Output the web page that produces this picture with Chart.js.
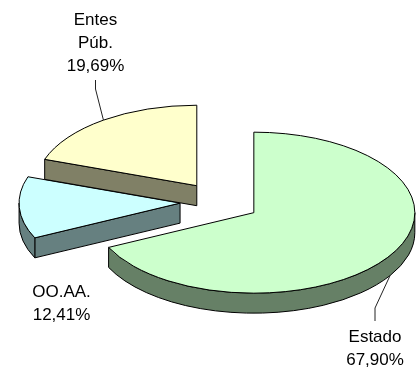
<!DOCTYPE html>
<html>
<head>
<meta charset="utf-8">
<script src="https://cdn.jsdelivr.net/npm/chart.js@4"></script>
<style>
html, body { margin: 0; padding: 0; background: #fff; }
canvas { display: block; }
</style>
</head>
<body>
<canvas id="canvas" width="416" height="367"></canvas>
<script>
const categories = ['Estado', 'OO.AA.', 'Entes Púb.'];
const shares = [67.90, 12.41, 19.69];
const topColors = ['#ccffcc', '#ccffff', '#ffffcc'];
const wallColors = ['#668066', '#668080', '#808066'];

// tilt of the fake 3d pie
const squash = 0.5;
const depth = 20;
const explode = 40;

// where the text goes: x centre, baseline of first line, leader elbow (if any)
const labelSpots = [
    { x: 375, y: 342, elbow: [375, 308], end: [375, 321] },
    { x: 61.5, y: 296.5 },
    { x: 95.5, y: 25, elbow: [95.5, 89], end: [95.5, 80] }
];

const pie3d = {
    id: 'pie3d',
    beforeDatasetDraw(chart) {
        const ctx = chart.ctx;
        const arcs = chart.getDatasetMeta(0).data;
        // back to front
        [1, 2, 0].forEach(i => {
            const arc = arcs[i];
            const r = arc.outerRadius;
            const mid = (arc.startAngle + arc.endAngle) / 2;
            const cx = arc.x + Math.cos(mid) * explode;
            const cy = arc.y + Math.sin(mid) * explode * squash;
            const a = arc.startAngle;
            const b = arc.endAngle;
            const px = t => cx + Math.cos(t) * r;
            const py = t => cy + Math.sin(t) * r * squash;

            ctx.save();
            ctx.lineWidth = 1;
            ctx.strokeStyle = '#000';
            ctx.fillStyle = wallColors[i];

            // straight walls, only the ones turned to the viewer
            [[a, Math.cos(a) < -1e-6], [b, Math.cos(b) > 1e-6]].forEach(([t, show]) => {
                if (!show) return;
                ctx.beginPath();
                ctx.moveTo(cx, cy);
                ctx.lineTo(px(t), py(t));
                ctx.lineTo(px(t), py(t) + depth);
                ctx.lineTo(cx, cy + depth);
                ctx.closePath();
                ctx.fill();
                ctx.stroke();
            });

            // curved wall: part of the rim in the lower half
            const from = Math.max(a, 0);
            const to = Math.min(b, Math.PI);
            if (to > from) {
                ctx.beginPath();
                ctx.ellipse(cx, cy, r, r * squash, 0, from, to);
                ctx.ellipse(cx, cy + depth, r, r * squash, 0, to, from, true);
                ctx.closePath();
                ctx.fill();
                ctx.stroke();
            }
            ctx.restore();

            // top face, drawn by the arc element itself
            ctx.save();
            ctx.translate(cx, cy);
            ctx.scale(1, squash);
            ctx.translate(-arc.x, -arc.y);
            arc.draw(ctx);
            ctx.restore();

            ctx.save();
            ctx.lineWidth = 1;
            ctx.strokeStyle = '#000';
            ctx.beginPath();
            ctx.moveTo(cx, cy);
            ctx.ellipse(cx, cy, r, r * squash, 0, a, b);
            ctx.closePath();
            ctx.stroke();
            ctx.restore();
        });

        // leaders and labels
        ctx.save();
        ctx.fillStyle = '#000';
        ctx.strokeStyle = '#222';
        ctx.lineWidth = 1;
        ctx.font = '17px "Liberation Sans", Arial, sans-serif';
        ctx.textAlign = 'center';
        arcs.forEach((arc, i) => {
            const spot = labelSpots[i];
            const mid = (arc.startAngle + arc.endAngle) / 2;
            const cx = arc.x + Math.cos(mid) * explode;
            const cy = arc.y + Math.sin(mid) * explode * squash;
            if (spot.end) {
                const ax = cx + Math.cos(mid) * arc.outerRadius;
                const ay = cy + Math.sin(mid) * arc.outerRadius * squash + (Math.sin(mid) > 0 ? depth : 0);
                ctx.beginPath();
                ctx.moveTo(ax, ay);
                ctx.lineTo(spot.elbow[0], spot.elbow[1]);
                ctx.lineTo(spot.end[0], spot.end[1]);
                ctx.stroke();
            }
            const lines = categories[i].split(' ');
            lines.push(shares[i].toFixed(2).replace('.', ',') + '%');
            lines.forEach((txt, n) => ctx.fillText(txt, spot.x, spot.y + n * 23));
        });
        ctx.restore();
        return false;
    }
};

const chart = new Chart(document.getElementById('canvas').getContext('2d'), {
    type: 'pie',
    data: {
        labels: categories,
        datasets: [{
            data: shares,
            backgroundColor: topColors,
            borderWidth: 0
        }]
    },
    options: {
        responsive: false,
        animation: false,
        radius: 161,
        layout: { padding: { left: 24, top: 37 } },
        plugins: {
            legend: { display: false },
            tooltip: { enabled: false }
        }
    },
    plugins: [pie3d]
});
</script>
</body>
</html>
